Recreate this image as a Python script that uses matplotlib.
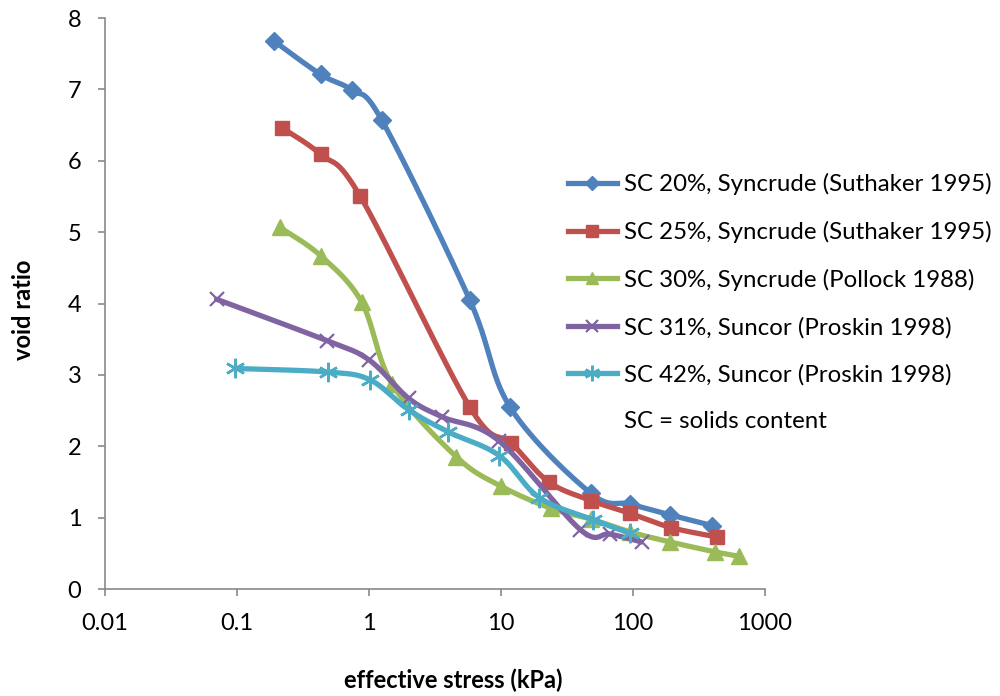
import numpy as np
import matplotlib
matplotlib.use("Agg")
import matplotlib.pyplot as plt
from matplotlib.lines import Line2D

plt.rcParams['font.family'] = ['Lato', 'DejaVu Sans']

# consolidation data: effective stress (kPa) vs void ratio
sc20_stress = [0.19, 0.43, 0.74, 1.25, 5.8, 11.7, 48, 95, 190, 395]
sc20_void = [7.68, 7.21, 6.99, 6.57, 4.05, 2.55, 1.34, 1.19, 1.04, 0.89]

sc25_stress = [0.22, 0.43, 0.86, 5.8, 12, 23, 48, 95, 195, 430]
sc25_void = [6.46, 6.09, 5.50, 2.55, 2.04, 1.50, 1.24, 1.06, 0.86, 0.73]

sc30_stress = [0.21, 0.43, 0.88, 1.5, 4.6, 10, 24, 48, 95, 190, 420, 630]
sc30_void = [5.07, 4.67, 4.02, 2.87, 1.85, 1.44, 1.13, 0.98, 0.80, 0.66, 0.52, 0.46]

sc31_stress = [0.07, 0.48, 1.0, 2.0, 3.6, 9.6, 40, 67, 116]
sc31_void = [4.06, 3.48, 3.21, 2.67, 2.41, 2.08, 0.83, 0.77, 0.66]

sc42_stress = [0.097, 0.49, 1.02, 2.0, 4.0, 9.7, 19.5, 50, 95]
sc42_void = [3.09, 3.04, 2.93, 2.51, 2.20, 1.87, 1.28, 0.97, 0.78]

labels = ['SC 20%, Syncrude (Suthaker 1995)',
          'SC 25%, Syncrude (Suthaker 1995)',
          'SC 30%, Syncrude (Pollock 1988)',
          'SC 31%, Suncor (Proskin 1998)',
          'SC 42%, Suncor (Proskin 1998)']
colors = ['#4F81BD', '#C0504D', '#9BBB59', '#8064A2', '#4BACC6']


def smooth_curve(xs, ys, n=30):
    # spreadsheet-style smoothed line: cubic bezier through the points,
    # built in log(x) so the curve looks right on the log axis
    px = np.log10(np.asarray(xs, float))
    py = np.asarray(ys, float)
    P = np.column_stack([px, py])
    P = np.vstack([P[0], P, P[-1]])
    out = []
    t = np.linspace(0, 1, n)[:, None]
    for i in range(1, len(P) - 2):
        p0, p1 = P[i], P[i + 1]
        c1 = p0 + (P[i + 1] - P[i - 1]) / 6
        c2 = p1 - (P[i + 2] - P[i]) / 6
        seg = ((1 - t) ** 3 * p0 + 3 * (1 - t) ** 2 * t * c1
               + 3 * (1 - t) * t ** 2 * c2 + t ** 3 * p1)
        out.append(seg if i == 1 else seg[1:])
    out = np.vstack(out)
    return 10 ** out[:, 0], out[:, 1]


fig = plt.figure(figsize=(10, 6.96), dpi=100)
ax = fig.add_axes([0.105, 0.1537, 0.66, 0.8204])

series = [(sc20_stress, sc20_void), (sc25_stress, sc25_void),
          (sc30_stress, sc30_void), (sc31_stress, sc31_void),
          (sc42_stress, sc42_void)]

asterisk = (6, 2, 0)
markers = [dict(marker='D', ms=9.5),
           dict(marker='s', ms=10.5),
           dict(marker='^', ms=11),
           dict(marker='x', ms=10, mew=1.6),
           dict(marker=asterisk, ms=14, mew=1.8)]

handles = []
for (xs, ys), col, mk, lab in zip(series, colors, markers, labels):
    sx, sy = smooth_curve(xs, ys)
    ax.plot(sx, sy, color=col, lw=3.8, solid_capstyle='round')
    ax.plot(xs, ys, ls='none', color=col, mec=col, mfc=col, **mk)
    handles.append(Line2D([], [], color=col, lw=3.8, mec=col, mfc=col,
                          **{k: (v * 0.8 if k == 'ms' else v) for k, v in mk.items()}))

handles.append(Line2D([], [], color='none'))
leg_labels = labels + ['SC = solids content']

ax.set_xscale('log')
ax.set_xlim(0.01, 1000)
ax.set_ylim(0, 8)
ax.set_yticks(range(0, 9))
ax.set_xticks([0.01, 0.1, 1, 10, 100, 1000])
ax.set_xticklabels(['0.01', '0.1', '1', '10', '100', '1000'])
ax.xaxis.set_minor_locator(matplotlib.ticker.NullLocator())

for s in ['top', 'right']:
    ax.spines[s].set_visible(False)
for s in ['left', 'bottom']:
    ax.spines[s].set_color('#898989')
    ax.spines[s].set_linewidth(1.2)
ax.tick_params(axis='both', colors='#898989', labelcolor='black',
               labelsize=17, length=5, width=1.2, direction='out')
ax.tick_params(axis='x', pad=12)
ax.tick_params(axis='y', pad=12)

fig.text(0.024, 0.555, 'void ratio', fontsize=17, fontweight='bold',
         rotation=90, ha='center', va='center')
fig.text(0.453, 0.023, 'effective stress (kPa)', fontsize=17,
         fontweight='bold', ha='center', va='center')

leg = fig.legend(handles, leg_labels, loc='upper left',
                 bbox_to_anchor=(0.558, 0.765), frameon=False,
                 fontsize=17.3, handlelength=2.05, handletextpad=0.3,
                 labelspacing=1.07, borderaxespad=0)

fig.savefig('out.png', dpi=100)
